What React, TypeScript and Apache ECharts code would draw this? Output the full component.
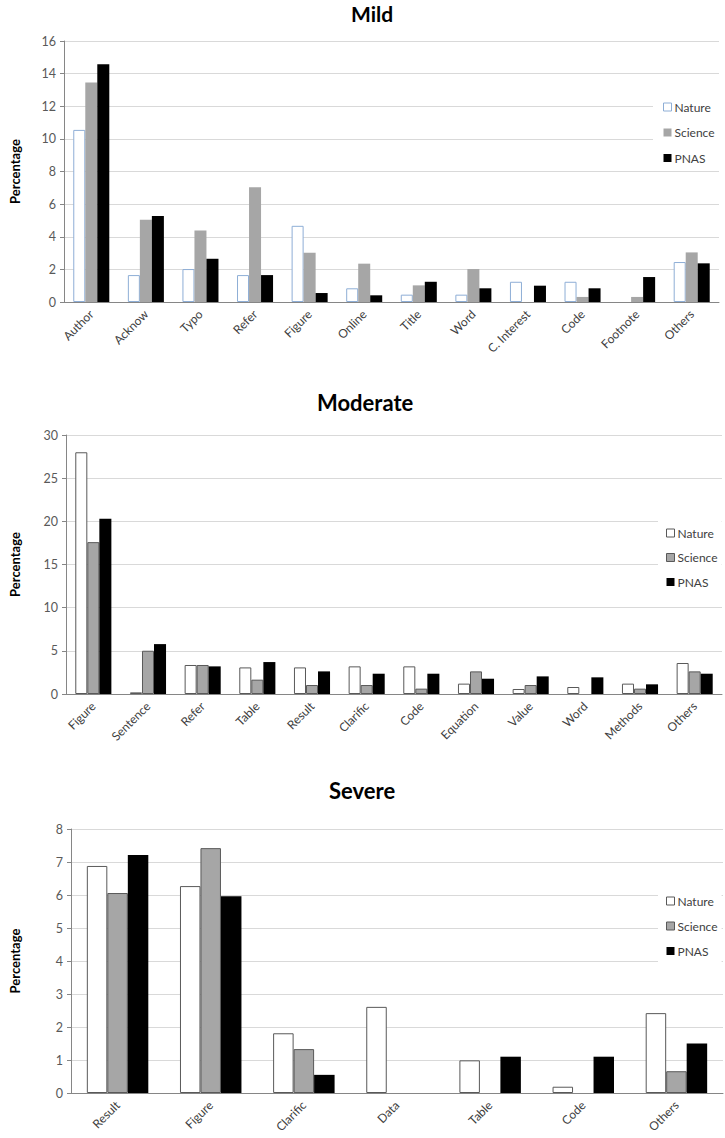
import React, { useEffect, useRef } from "react";
import * as echarts from "echarts";

const SERIES_NAMES = ["Nature", "Science", "PNAS"];

const mildCategories = ["Author", "Acknow", "Typo", "Refer", "Figure", "Online", "Title", "Word", "C. Interest", "Code", "Footnote", "Others"];
const mildNature = [10.55, 1.65, 2.02, 1.65, 4.67, 0.84, 0.45, 0.45, 1.24, 1.24, 0, 2.45];
const mildScience = [13.45, 5.04, 4.39, 7.04, 3.02, 2.35, 1.02, 2.02, 0, 0.31, 0.31, 3.04];
const mildPNAS = [14.57, 5.27, 2.65, 1.65, 0.55, 0.41, 1.24, 0.84, 1.0, 0.84, 1.53, 2.37];

const modCategories = ["Figure", "Sentence", "Refer", "Table", "Result", "Clarific", "Code", "Equation", "Value", "Word", "Methods", "Others"];
const modNature = [28.0, 0.19, 3.36, 3.08, 3.08, 3.2, 3.2, 1.2, 0.58, 0.81, 1.2, 3.59];
const modScience = [17.59, 5.01, 3.36, 1.66, 1.04, 1.04, 0.62, 2.62, 1.04, 0, 0.62, 2.62];
const modPNAS = [20.3, 5.78, 3.2, 3.7, 2.62, 2.35, 2.35, 1.77, 2.04, 1.93, 1.12, 2.35];

const sevCategories = ["Result", "Figure", "Clarific", "Data", "Table", "Code", "Others"];
const sevNature = [6.88, 6.27, 1.81, 2.61, 0.99, 0.19, 2.42];
const sevScience = [6.06, 7.42, 1.33, 0, 0, 0, 0.66];
const sevPNAS = [7.21, 5.96, 0.55, 0, 1.1, 1.1, 1.5];

const FONT = "Lato, 'Open Sans', sans-serif";

type PanelCfg = {
  title: string;
  top: number;
  height: number;
  categories: string[];
  data: number[][];
  yMax: number;
  yInterval: number;
  grid: { left: number; right: number; top: number; height: number };
  legend: { left: number; top: number; padding: number[]; itemGap: number };
  natureBorder: string;
  scienceBorder: string | null;
  titleLeft: number;
  titleTop: number;
  titleSize: number;
  nameGap: number;
};

const panels: PanelCfg[] = [
  {
    title: "Mild",
    top: 0,
    height: 370,
    categories: mildCategories,
    data: [mildNature, mildScience, mildPNAS],
    yMax: 16,
    yInterval: 2,
    grid: { left: 58, right: 6, top: 41, height: 261 },
    legend: { left: 653, top: 95, padding: [5, 6, 5, 10], itemGap: 11.5 },
    natureBorder: "#8eaed6",
    scienceBorder: null,
    titleLeft: 351,
    titleTop: 3,
    titleSize: 21,
    nameGap: 43,
  },
  {
    title: "Moderate",
    top: 370,
    height: 390,
    categories: modCategories,
    data: [modNature, modScience, modPNAS],
    yMax: 30,
    yInterval: 5,
    grid: { left: 58, right: 3, top: 65, height: 259 },
    legend: { left: 658, top: 150, padding: [6, 4, 6, 8], itemGap: 10.5 },
    natureBorder: "#595959",
    scienceBorder: "#595959",
    titleLeft: 317,
    titleTop: 21,
    titleSize: 22,
    nameGap: 45,
  },
  {
    title: "Severe",
    top: 760,
    height: 378,
    categories: sevCategories,
    data: [sevNature, sevScience, sevPNAS],
    yMax: 8,
    yInterval: 1,
    grid: { left: 65, right: 2, top: 69, height: 264 },
    legend: { left: 658, top: 129, padding: [5, 4, 5, 8], itemGap: 11 },
    natureBorder: "#595959",
    scienceBorder: "#595959",
    titleLeft: 329,
    titleTop: 19,
    titleSize: 22,
    nameGap: 50,
  },
];

function Panel({ cfg }: { cfg: PanelCfg }) {
  const ref = useRef<HTMLDivElement>(null);
  useEffect(() => {
    if (!ref.current) return;
    const chart = echarts.init(ref.current, null, { renderer: "svg" });
    const styles = [
      { color: "#ffffff", borderColor: cfg.natureBorder, borderWidth: 1 },
      cfg.scienceBorder
        ? { color: "#a6a6a6", borderColor: cfg.scienceBorder, borderWidth: 1 }
        : { color: "#a6a6a6" },
      { color: "#000000" },
    ];
    chart.setOption({
      animation: false,
      textStyle: { fontFamily: FONT },
      title: {
        text: cfg.title,
        left: cfg.titleLeft,
        top: cfg.titleTop,
        padding: 0,
        textStyle: { fontFamily: FONT, fontWeight: "bold", fontSize: cfg.titleSize, color: "#000" },
      },
      grid: { ...cfg.grid, containLabel: false },
      legend: {
        orient: "vertical",
        left: cfg.legend.left,
        top: cfg.legend.top,
        padding: cfg.legend.padding,
        itemGap: cfg.legend.itemGap,
        itemWidth: 8,
        itemHeight: 8,
        backgroundColor: "#ffffff",
        selectedMode: false,
        textStyle: { fontFamily: FONT, fontSize: 12, color: "#404040", lineHeight: 14, padding: [0, 0, 0, -2] },
        data: SERIES_NAMES.map((n, i) => ({ name: n, icon: "rect", itemStyle: styles[i] })),
      },
      xAxis: {
        type: "category",
        data: cfg.categories,
        axisLine: { show: true, lineStyle: { color: "#868686", width: 1 } },
        axisTick: { show: false },
        axisLabel: {
          rotate: 45,
          interval: 0,
          fontFamily: FONT,
          fontSize: 12,
          color: "#404040",
          margin: 10,
        },
      },
      yAxis: {
        type: "value",
        min: 0,
        max: cfg.yMax,
        interval: cfg.yInterval,
        name: "Percentage",
        nameLocation: "middle",
        nameGap: cfg.nameGap,
        nameTextStyle: { fontFamily: FONT, fontWeight: "bold", fontSize: 13, color: "#000" },
        axisLine: { show: true, lineStyle: { color: "#868686", width: 1 } },
        axisTick: { show: true, length: 4, lineStyle: { color: "#868686" } },
        axisLabel: { fontFamily: FONT, fontSize: 12.5, color: "#595959", margin: 8 },
        splitLine: { show: true, lineStyle: { color: "#d9d9d9", width: 1 } },
      },
      series: SERIES_NAMES.map((n, i) => ({
        name: n,
        type: "bar",
        data: cfg.data[i].map((v) => (v === 0 ? "-" : v)),
        barGap: "0%",
        barCategoryGap: "34%",
        itemStyle: styles[i],
      })),
    });
    return () => chart.dispose();
  }, [cfg]);
  return (
    <div
      ref={ref}
      style={{ position: "absolute", left: 0, top: cfg.top, width: 725, height: cfg.height }}
    />
  );
}

export default function App() {
  return (
    <div style={{ position: "absolute", left: 0, top: 0, width: 725, height: 1138, background: "#fff" }}>
      {panels.map((p) => (
        <Panel key={p.title} cfg={p} />
      ))}
    </div>
  );
}
